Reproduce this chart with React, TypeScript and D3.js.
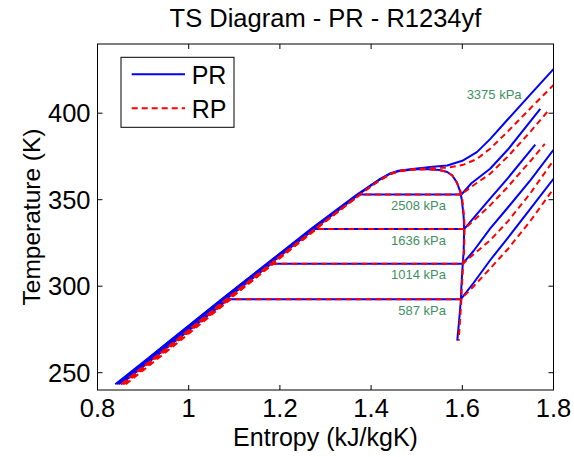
import React from "react";
import * as d3 from "d3";

type Pt = [number, number];

// Series: entropy (kJ/kgK), temperature (K)
const pr587: Pt[] = [[0.851,243.3],[0.955,265],[1.087,292.5],[1.597,292.5],[1.625,302],[1.661,315],[1.70,328],[1.75,345],[1.80,362.1]];
const pr1014: Pt[] = [[0.847,243.3],[0.951,265],[1.082,292.5],[1.181,313],[1.601,313],[1.625,320.5],[1.661,333.3],[1.70,345.5],[1.75,361.5],[1.80,378.8]];
const pr1636: Pt[] = [[0.843,243.3],[0.947,265],[1.077,292.5],[1.176,313],[1.275,333],[1.604,333],[1.625,339.5],[1.661,350.6],[1.70,362.5],[1.76,381.9]];
const pr2508: Pt[] = [[0.839,243.3],[0.943,265],[1.073,292.5],[1.172,313],[1.270,333],[1.372,353],[1.598,353],[1.62,359.5],[1.661,367.9],[1.70,379],[1.771,402.5]];
const pr3375: Pt[] = [[0.845,243.8],[0.945,265.5],[1.075,293],[1.174,313.5],[1.270,333.5],[1.369,353],[1.40,358.5],[1.42,362],[1.44,365],[1.46,366.8],[1.50,368],[1.535,369],[1.567,369.8],[1.60,372.5],[1.632,377.5],[1.661,385],[1.70,396.5],[1.75,411],[1.80,425.5]];
const prDome: Pt[] = [[0.967,268.5],[1.08,292.5],[1.179,313],[1.274,333],[1.373,353],[1.40,358.3],[1.42,361.8],[1.44,364.8],[1.46,366.4],[1.49,367.4],[1.52,367.7],[1.55,367.2],[1.567,366],[1.578,364],[1.588,360],[1.595,355],[1.599,350],[1.603,340],[1.604,333],[1.603,320],[1.601,313],[1.598,300],[1.597,292.5],[1.593,280],[1.589,268.5]];

const rp587: Pt[] = [[0.862,243.3],[0.965,265],[1.092,292.5],[1.597,292.5],[1.625,300],[1.661,310.2],[1.70,321.5],[1.75,338],[1.80,356.3]];
const rp1014: Pt[] = [[0.858,243.3],[0.961,265],[1.089,292.5],[1.186,313],[1.601,313],[1.625,318.5],[1.661,326.5],[1.70,337.5],[1.75,354],[1.80,372.7]];
const rp1636: Pt[] = [[0.855,243.3],[0.958,265],[1.086,292.5],[1.183,313],[1.280,333],[1.604,333],[1.625,338],[1.661,346.7],[1.70,357.5],[1.75,372.5],[1.781,382.3]];
const rp2508: Pt[] = [[0.852,243.3],[0.955,265],[1.083,292.5],[1.180,313],[1.277,333],[1.376,353],[1.598,353],[1.62,357.5],[1.661,365],[1.70,375],[1.75,389.5],[1.792,402.5]];
const rp3375: Pt[] = [[0.856,243.8],[0.958,265.5],[1.086,293],[1.183,313.5],[1.279,333.5],[1.376,353],[1.403,358.5],[1.423,362],[1.443,365],[1.463,366.8],[1.50,367.8],[1.535,368.3],[1.567,368.5],[1.60,370],[1.632,373.5],[1.661,379.5],[1.70,389.5],[1.75,403],[1.80,416.3]];
const rpDome: Pt[] = [[0.976,268.5],[1.089,292.5],[1.185,313],[1.279,333],[1.376,353],[1.403,358.3],[1.423,361.8],[1.443,364.8],[1.463,366.4],[1.49,367.3],[1.52,367.6],[1.55,367.1],[1.567,366],[1.578,364],[1.588,360],[1.596,355],[1.600,350],[1.604,340],[1.605,333],[1.604,320],[1.602,313],[1.599,300],[1.598,292.5],[1.595,280],[1.592,268.5]];

const prSeries: Pt[][] = [prDome, pr587, pr1014, pr1636, pr2508, pr3375];
const rpSeries: Pt[][] = [rpDome, rp587, rp1014, rp1636, rp2508, rp3375];

const pressureLabels = ["587 kPa", "1014 kPa", "1636 kPa", "2508 kPa", "3375 kPa"];
const labelS = [1.564, 1.564, 1.564, 1.564, 1.730];
const labelT = [283.3, 303.9, 324.0, 344.1, 408.1];

const xTicks = [0.8, 1, 1.2, 1.4, 1.6, 1.8];
const yTicks = [250, 300, 350, 400];
const legendNames = ["PR", "RP"];

const W = 574, H = 457;
const L = 97.5, R = 553.5, T = 44, B = 390;
const FONT = "'Liberation Sans', Arial, Helvetica, sans-serif";

export default function App() {
  const x = d3.scaleLinear().domain([0.8, 1.8]).range([L, R]);
  const y = d3.scaleLinear().domain([240, 440]).range([B, T]);
  const line = d3.line<Pt>().x(d => x(d[0])).y(d => y(d[1]));
  const tl = 5;
  return (
    <svg width={W} height={H} style={{ position: "absolute", left: 0, top: 0, background: "#fff" }} fontFamily={FONT}>
      <rect x={0} y={0} width={W} height={H} fill="#fff" />
      <defs>
        <clipPath id="plotclip"><rect x={L} y={T} width={R - L} height={B - T} /></clipPath>
      </defs>
      <g clipPath="url(#plotclip)">
        {prSeries.map((s, i) => (
          <path key={"pr" + i} d={line(s) || ""} fill="none" stroke="#0000ff" strokeWidth={2} strokeLinejoin="round" />
        ))}
        {rpSeries.map((s, i) => (
          <path key={"rp" + i} d={line(s) || ""} fill="none" stroke="#ff0000" strokeWidth={2} strokeDasharray="6,4" strokeLinejoin="round" />
        ))}
      </g>
      {pressureLabels.map((t, i) => (
        <text key={t} x={x(labelS[i])} y={y(labelT[i])} textAnchor="end" fontSize={13} fill="#3f8f63">{t}</text>
      ))}
      <rect x={L} y={T} width={R - L} height={B - T} fill="none" stroke="#000" strokeWidth={1} />
      {xTicks.map(v => (
        <g key={"x" + v}>
          <line x1={x(v)} x2={x(v)} y1={B} y2={B - tl} stroke="#000" />
          <line x1={x(v)} x2={x(v)} y1={T} y2={T + tl} stroke="#000" />
          <text x={x(v)} y={417} textAnchor="middle" fontSize={25.5}>{String(v)}</text>
        </g>
      ))}
      {yTicks.map(v => (
        <g key={"y" + v}>
          <line x1={L} x2={L + tl} y1={y(v)} y2={y(v)} stroke="#000" />
          <line x1={R} x2={R - tl} y1={y(v)} y2={y(v)} stroke="#000" />
          <text x={L - 7} y={y(v) + 9} textAnchor="end" fontSize={25.5}>{String(v)}</text>
        </g>
      ))}
      <text x={(L + R) / 2} y={27} textAnchor="middle" fontSize={25.5}>TS Diagram - PR - R1234yf</text>
      <text x={(L + R) / 2} y={446} textAnchor="middle" fontSize={25}>Entropy (kJ/kgK)</text>
      <text transform={`translate(40,${(T + B) / 2}) rotate(-90)`} textAnchor="middle" fontSize={24.5}>Temperature (K)</text>
      <g>
        <rect x={121} y={57.3} width={113} height={70} fill="#fff" stroke="#000" strokeWidth={1} />
        <line x1={131.7} x2={185} y1={74.3} y2={74.3} stroke="#0000ff" strokeWidth={2} />
        <line x1={131.7} x2={185} y1={108.3} y2={108.3} stroke="#ff0000" strokeWidth={2} strokeDasharray="6,4" />
        <text x={191.7} y={84} fontSize={25}>{legendNames[0]}</text>
        <text x={191.7} y={118} fontSize={25}>{legendNames[1]}</text>
      </g>
    </svg>
  );
}
